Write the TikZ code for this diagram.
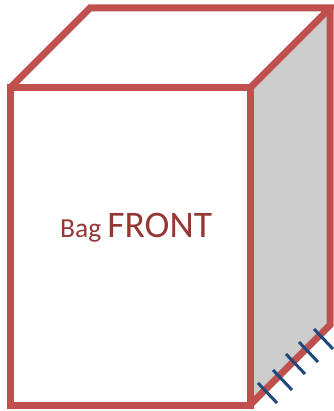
\documentclass[tikz,border=0pt]{standalone}
\usepackage{fontspec}
\setmainfont{Carlito}
\definecolor{bagred}{HTML}{C0504D}
\definecolor{bagtext}{HTML}{953735}
\definecolor{bagblue}{HTML}{1F497D}
\definecolor{baggray}{HTML}{CDCDCD}

\begin{document}
\begin{tikzpicture}[x=1pt, y=-1pt]
	\tikzset{bagline/.style={draw=bagred, line width=7pt, line join=miter}}
	\useasboundingbox (0, 0) rectangle (333, 411);
	\fill[baggray] (250, 88) -- (330, 8) -- (330, 325) -- (250, 405) -- cycle;
	\draw[bagline] (10, 88) rectangle (250, 405);
	\draw[bagline] (10, 88) -- (90, 8) -- (330, 8) -- (250, 88);
	\draw[bagline] (330, 8) -- (330, 325) -- (250, 405);

	\foreach \ix/\iy in {258/383, 273/370, 286/354, 299/342, 314/329} {
			\draw[bagblue, line width=3pt] (\ix, \iy) -- ++ (19, 20);
		}

	\node[bagtext, inner sep=0pt, anchor=base west] (bagfront) at (60, 237)
		{\fontsize{27.5}{32}\selectfont Bag \fontsize{37.5}{44}\selectfont FRONT};
\end{tikzpicture}
\end{document}
